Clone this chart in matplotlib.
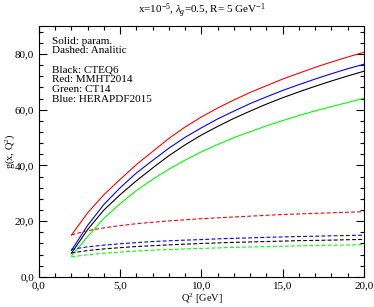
import numpy as np
import matplotlib
matplotlib.use('Agg')
import matplotlib.pyplot as plt
from matplotlib.ticker import MultipleLocator, FuncFormatter

plt.rcParams['font.family'] = 'Liberation Serif'
plt.rcParams['mathtext.fontset'] = 'custom'
plt.rcParams['mathtext.rm'] = 'Liberation Serif'
plt.rcParams['mathtext.it'] = 'Liberation Serif:italic'

# Q^2 grid
q2 = [2, 3, 4, 5, 6, 7, 8, 9, 10, 11, 12, 13, 14, 15, 16, 17, 18, 19, 20]

# solid: parametrization
cteq6_param = [8.5, 17.0, 24.0, 29.5, 34.5, 39.1, 43.5, 47.4, 50.9, 54.0, 56.9,
               59.5, 62.0, 64.3, 66.4, 68.4, 70.3, 72.1, 73.8]
mmht_param = [15.0, 23.0, 29.5, 35.0, 40.3, 45.0, 49.7, 53.8, 57.4, 60.6, 63.5,
              66.2, 68.6, 71.0, 73.1, 75.2, 77.1, 78.9, 80.6]
ct14_param = [7.5, 14.5, 21.0, 26.3, 31.0, 35.0, 38.7, 41.9, 44.9, 47.5, 50.0,
              52.1, 54.2, 56.1, 57.9, 59.6, 61.1, 62.6, 64.1]
hera_param = [9.5, 18.5, 26.0, 32.0, 37.3, 41.8, 46.2, 50.1, 53.5, 56.7, 59.5,
              62.2, 64.6, 66.9, 69.0, 71.0, 72.9, 74.7, 76.3]

# dashed: analytic
cteq6_anal = [8.6, 9.45, 10.05, 10.5, 10.9, 11.2, 11.5, 11.75, 12.0, 12.2, 12.4,
              12.55, 12.7, 12.85, 13.0, 13.1, 13.2, 13.35, 13.45]
mmht_anal = [15.1, 16.6, 17.6, 18.4, 19.1, 19.6, 20.1, 20.5, 20.9, 21.2, 21.5,
             21.8, 22.1, 22.4, 22.6, 22.8, 23.0, 23.2, 23.4]
ct14_anal = [7.2, 7.95, 8.5, 8.9, 9.3, 9.6, 9.8, 10.05, 10.25, 10.4, 10.6,
             10.75, 10.9, 11.0, 11.15, 11.25, 11.35, 11.45, 11.55]
hera_anal = [9.9, 10.8, 11.4, 11.9, 12.3, 12.7, 12.95, 13.2, 13.4, 13.65, 13.85,
             14.0, 14.2, 14.35, 14.5, 14.6, 14.75, 14.85, 15.0]

fig = plt.figure(figsize=(3.74, 3.07), dpi=100)
ax = fig.add_axes([0.104, 0.098, 0.869, 0.817])

lw = 0.8
ax.plot(q2, cteq6_param, color='black', lw=lw)
ax.plot(q2, mmht_param, color='#ff0000', lw=lw)
ax.plot(q2, ct14_param, color='#00ff00', lw=lw)
ax.plot(q2, hera_param, color='#0000ff', lw=lw)

dash = (0, (3.5, 2))
ax.plot(q2, cteq6_anal, color='black', lw=lw, linestyle=dash)
ax.plot(q2, mmht_anal, color='#ff0000', lw=lw, linestyle=dash)
ax.plot(q2, ct14_anal, color='#00ff00', lw=lw, linestyle=dash)
ax.plot(q2, hera_anal, color='#0000ff', lw=lw, linestyle=dash)

ax.set_xlim(0, 20)
ax.set_ylim(0, 90)
ax.xaxis.set_major_locator(MultipleLocator(5))
ax.xaxis.set_minor_locator(MultipleLocator(1))
ax.yaxis.set_major_locator(MultipleLocator(20))
ax.yaxis.set_minor_locator(MultipleLocator(4))
fmt = FuncFormatter(lambda v, p: ('%.1f' % v).replace('.', ','))
ax.xaxis.set_major_formatter(fmt)
ax.yaxis.set_major_formatter(fmt)
ax.tick_params(which='both', direction='in', top=True, right=True, labelsize=8, width=0.8)
ax.tick_params(which='major', length=6)
ax.tick_params(which='minor', length=3)
for s in ax.spines.values():
    s.set_linewidth(0.8)

ax.set_xlabel(r'Q$^2$ [GeV]', fontsize=7.5)
ax.set_ylabel(r'g(x, Q$^2$)', fontsize=7.5)
ax.xaxis.set_label_coords(0.5, -0.058)
ax.yaxis.set_label_coords(-0.068, 0.5)
ax.set_title(r'x=10$^{-5}$, $\lambda_g$=0.5, R= 5 GeV$^{-1}$', fontsize=8, pad=9)

lines = ['Solid: param.', 'Dashed: Analitic', '', 'Black: CTEQ6', 'Red: MMHT2014',
         'Green: CT14', 'Blue: HERAPDF2015']
ax.text(0.04, 0.958, '\n'.join(lines), transform=ax.transAxes, fontsize=8,
        va='top', ha='left', linespacing=1.1)

fig.savefig('out.png', dpi=100)
